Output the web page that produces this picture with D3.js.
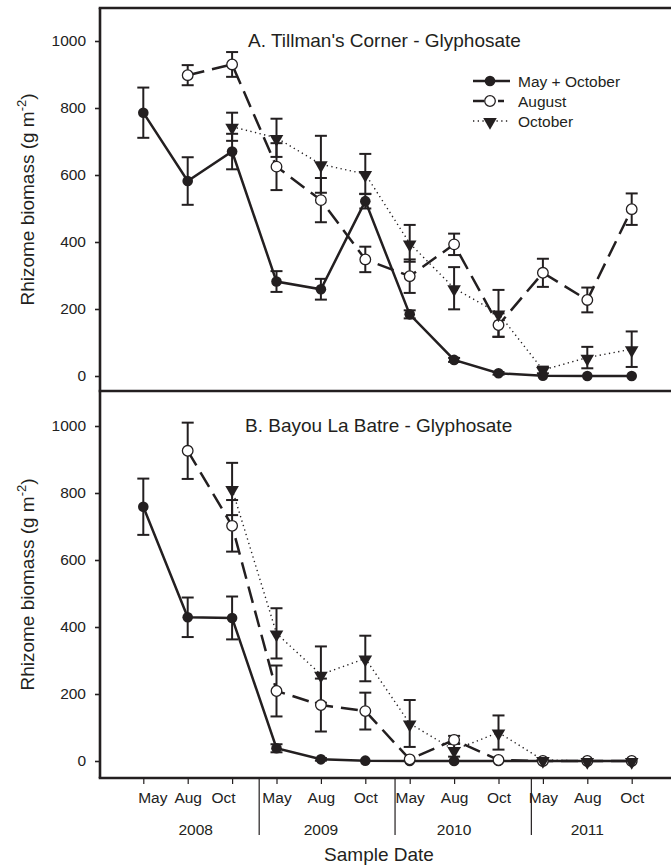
<!DOCTYPE html>
<html>
<head>
<meta charset="utf-8">
<script src="https://cdn.jsdelivr.net/npm/d3@7/dist/d3.min.js"></script>
<style>
  body { margin: 0; background: #fff; }
  svg { display: block; font-family: "Liberation Sans", Arial, sans-serif; }
  .tick text { font-size: 15.5px; fill: #222; }
</style>
</head>
<body>
<div id="chart"></div>
<script>
(function(){
  const W = 671, H = 867,
        ink = '#231f20';

  // sample dates (x categories)
  const months = ['May','Aug','Oct','May','Aug','Oct','May','Aug','Oct','May','Aug','Oct'];
  const years  = ['2008','2009','2010','2011'];
  const yearBreaks = [2.61, 5.67, 8.74];   // divider positions between years (in sample index)
  const yTicks = [0, 200, 400, 600, 800, 1000];

  // A. Tillman's Corner
  const tcMayOct    = [786, 582, 670, 282, 259, 522, 184, 48, 8, 1, 0, 0];
  const tcMayOctErr = [75, 71, 53, 31, 31, 22, 12, 6, 4, 0, 0, 0];
  const tcAug       = [null, 898, 930, 625, 525, 348, 298, 393, 152, 308, 227, 498];
  const tcAugErr    = [null, 30, 37, 70, 66, 38, 50, 32, 35, 42, 37, 47];
  const tcOct       = [null, null, 744, 711, 632, 603, 396, 262, 187, 18, 55, 80];
  const tcOctErr    = [null, null, 42, 57, 85, 60, 55, 63, 70, 10, 32, 53];

  // B. Bayou La Batre
  const blbMayOct    = [759, 429, 427, 38, 5, 1, 0, 0, 0, 0, 0, 0];
  const blbMayOctErr = [84, 59, 64, 12, 4, 0, 0, 0, 0, 0, 0, 0];
  const blbAug       = [null, 926, 702, 209, 167, 149, 5, 63, 3, 0, 0, 0];
  const blbAugErr    = [null, 84, 77, 76, 79, 55, 0, 12, 0, 0, 0, 0];
  const blbOct       = [null, null, 812, 381, 258, 306, 112, 33, 85, 3, 0, 0];
  const blbOctErr    = [null, null, 78, 75, 84, 68, 70, 20, 51, 0, 0, 0];

  const seriesNames = ['May + October', 'August', 'October'];

  const panels = [
    { title: "A. Tillman's Corner - Glyphosate", tx: 248, top: 8, bottom: 391, y0: 376, y1000: 41,
      series: [[tcMayOct, tcMayOctErr], [tcAug, tcAugErr], [tcOct, tcOctErr]], legend: true },
    { title: 'B. Bayou La Batre - Glyphosate', tx: 245, top: 391, bottom: 778, y0: 761, y1000: 426,
      series: [[blbMayOct, blbMayOctErr], [blbAug, blbAugErr], [blbOct, blbOctErr]], legend: false }
  ];

  const style = [
    { dash: null,      width: 2.5, marker: 'dot' },
    { dash: '17,8',    width: 2.5, marker: 'open' },
    { dash: '1.3,3.4', width: 1.4, marker: 'tri' }
  ];

  const left = 100, right = W;
  const x = d3.scaleLinear().domain([0, months.length - 1]).range([143.3, 631.7]);

  const svg = d3.select('#chart').append('svg')
    .attr('width', W).attr('height', H);

  const tri = d3.symbol().type(d3.symbolTriangle).size(80);

  function drawMarker(g, kind, cx, cy) {
    if (kind === 'dot') {
      g.append('circle').attr('cx', cx).attr('cy', cy).attr('r', 5.3).attr('fill', ink);
    } else if (kind === 'open') {
      g.append('circle').attr('cx', cx).attr('cy', cy).attr('r', 5.3)
        .attr('fill', '#fff').attr('stroke', ink).attr('stroke-width', 1.3);
    } else {
      g.append('path').attr('d', tri)
        .attr('transform', `translate(${cx},${cy + 1}) rotate(180)`)
        .attr('fill', ink);
    }
  }

  panels.forEach(p => {
    const y = d3.scaleLinear().domain([0, 1000]).range([p.y0, p.y1000]);
    const g = svg.append('g');

    // y axis
    const ax = g.append('g')
      .attr('transform', `translate(${left},0)`)
      .call(d3.axisLeft(y).tickValues(yTicks).tickFormat(d3.format('d')).tickSize(5).tickPadding(9));
    ax.select('.domain').remove();
    ax.selectAll('.tick line').attr('stroke', ink).attr('stroke-width', 1.6);

    // y label
    const lab = g.append('text')
      .attr('transform', `translate(34,${(p.top + p.bottom) / 2}) rotate(-90)`)
      .attr('text-anchor', 'middle')
      .attr('font-size', 19).attr('fill', ink);
    lab.append('tspan').text('Rhizome biomass (g m');
    lab.append('tspan').attr('font-size', 13).attr('dy', -8).text('-2');
    lab.append('tspan').attr('dy', 8).text(')');

    // panel title
    g.append('text')
      .attr('x', p.tx)
      .attr('y', p.y1000 + 6)
      .attr('font-size', 19).attr('fill', ink)
      .text(p.title);

    // error bars first
    p.series.forEach(([vals, errs]) => {
      const pts = vals.map((v, i) => ({ i, v, e: errs[i] })).filter(d => d.v != null && d.e > 0);
      const eb = g.append('g').attr('stroke', ink).attr('stroke-width', 2);
      pts.forEach(d => {
        const cx = x(d.i), ya = y(d.v + d.e), yb = y(d.v - d.e);
        eb.append('line').attr('x1', cx).attr('x2', cx).attr('y1', ya).attr('y2', yb);
        eb.append('line').attr('x1', cx - 6).attr('x2', cx + 6).attr('y1', ya).attr('y2', ya);
        eb.append('line').attr('x1', cx - 6).attr('x2', cx + 6).attr('y1', yb).attr('y2', yb);
      });
    });

    // lines
    p.series.forEach(([vals], si) => {
      const pts = vals.map((v, i) => ({ i, v })).filter(d => d.v != null);
      const line = d3.line().x(d => x(d.i)).y(d => y(d.v));
      g.append('path').datum(pts)
        .attr('d', line)
        .attr('fill', 'none')
        .attr('stroke', ink)
        .attr('stroke-width', style[si].width)
        .attr('stroke-dasharray', style[si].dash);
    });

    // markers
    p.series.forEach(([vals], si) => {
      const mg = g.append('g');
      vals.forEach((v, i) => { if (v != null) drawMarker(mg, style[si].marker, x(i), y(v)); });
    });

    // legend
    if (p.legend) {
      const lg = g.append('g');
      seriesNames.forEach((name, si) => {
        const ly = 81 + si * 20;
        const ln = lg.append('line').attr('x1', 473).attr('x2', 510).attr('y1', ly).attr('y2', ly)
          .attr('stroke', ink).attr('stroke-width', style[si].width);
        if (si === 1) ln.attr('stroke-dasharray', '11,14,6,20');
        if (si === 2) ln.attr('stroke-dasharray', style[si].dash);
        drawMarker(lg, style[si].marker, 490, ly);
        lg.append('text').attr('x', 518).attr('y', ly).attr('dy', '0.36em')
          .attr('font-size', 15.5).attr('fill', ink).text(name);
      });
    }
  });

  // frame
  const frame = svg.append('g').attr('stroke', ink).attr('stroke-width', 2.6).attr('fill', 'none');
  frame.append('line').attr('x1', left).attr('x2', left).attr('y1', 8).attr('y2', 778);
  [8, 391, 778].forEach(yy => {
    frame.append('line').attr('x1', left - 1.3).attr('x2', right).attr('y1', yy).attr('y2', yy);
  });

  // x axis
  const xa = svg.append('g')
    .attr('transform', 'translate(0,778)')
    .call(d3.axisBottom(x).tickValues(d3.range(months.length))
      .tickFormat(i => months[i]).tickSize(6).tickPadding(8));
  xa.select('.domain').remove();
  xa.selectAll('.tick line').attr('stroke', ink).attr('stroke-width', 1.2);
  // the first year's labels sit a little closer together
  xa.selectAll('.tick text').attr('dx', i => i === 0 ? 9 : i === 2 ? -9 : 0);

  // year dividers + labels
  svg.append('g').selectAll('line').data(yearBreaks).join('line')
    .attr('x1', d => x(d)).attr('x2', d => x(d))
    .attr('y1', 777).attr('y2', 835)
    .attr('stroke', ink).attr('stroke-width', 1.2);

  svg.append('g').selectAll('text').data(years).join('text')
    .attr('x', (d, k) => x(k * 3 + 1) + (k === 0 ? 8 : 0))
    .attr('y', 835)
    .attr('text-anchor', 'middle')
    .attr('font-size', 15.5).attr('fill', ink)
    .text(d => d);

  svg.append('text')
    .attr('x', 379).attr('y', 861)
    .attr('text-anchor', 'middle')
    .attr('font-size', 19).attr('fill', ink)
    .text('Sample Date');
})();
</script>
</body>
</html>
